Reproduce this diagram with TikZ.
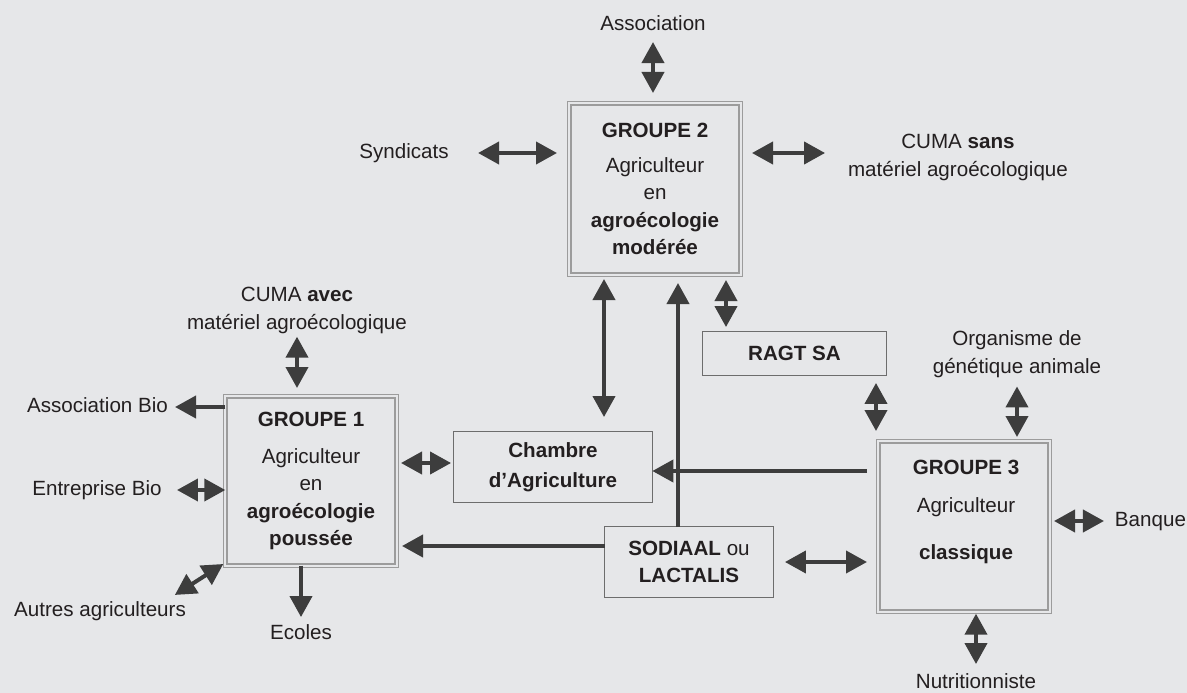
\documentclass[tikz,border=0pt]{standalone}
\usepackage{fontspec}
\setmainfont{Liberation Sans}
\usetikzlibrary{arrows.meta}
\definecolor{bgc}{HTML}{E6E7E9}
\definecolor{arrc}{HTML}{3D3D3D}
\definecolor{txtc}{HTML}{231F20}
\definecolor{dbc}{HTML}{9C9C9C}
\definecolor{sbc}{HTML}{6D6D6D}
\newcommand{\dfont}{\fontsize{20.6pt}{27.5pt}\selectfont}
\tikzset{
  lbl/.style={font=\dfont, text=txtc, inner sep=0pt, outer sep=0pt, text height=14.8pt, text depth=4.3pt},
  lbltwo/.style={font=\dfont, text=txtc, inner sep=0pt, outer sep=0pt, align=center},
  dbox/.style={draw=dbc, line width=1.4pt, double=bgc, double distance=1.8pt, minimum width=171.4pt, inner sep=0pt, outer sep=0pt, font=\dfont, text=txtc, align=center},
  sbox/.style={draw=sbc, line width=1.3pt, inner sep=0pt, outer sep=0pt, font=\dfont, text=txtc, align=center},
  con/.style={draw=arrc, line width=4pt, -{Triangle[length=21pt,width=22pt]}},
  bicon/.style={draw=arrc, line width=4pt, {Triangle[length=21pt,width=22pt]}-{Triangle[length=21pt,width=22pt]}}
}
\begin{document}
\begin{tikzpicture}[x=1pt,y=-1pt]
\fill[bgc] (0,0) rectangle (1187,693);
\useasboundingbox (0,0) rectangle (1187,693);

% main boxes
\node[dbox, minimum height=171.4pt] (g2) at (655,189) {\textbf{GROUPE 2}\\[7.5pt]Agriculteur\\en\\\textbf{agroécologie}\\\textbf{modérée}};
\node[dbox, minimum height=169.4pt] (g1) at (311,481) {\textbf{GROUPE 1}\\[9.5pt]Agriculteur\\en\\\textbf{agroécologie}\\\textbf{poussée}};
\node[dbox, minimum height=170.4pt] (g3) at (964,526.5) {};
\node[lbltwo] (g3txt) at (966,512) {\textbf{GROUPE 3}\\[10.5pt]Agriculteur\\[19.5pt]\textbf{classique}};

\node[sbox, minimum width=198.7pt, minimum height=70.7pt] (chambre) at (553,467) {\textbf{Chambre}\\[2.5pt]\textbf{d’Agriculture}};
\node[sbox, minimum width=183.7pt, minimum height=43.7pt] (ragt) at (794.5,353.5) {\textbf{RAGT SA}};
\node[sbox, minimum width=168.7pt, minimum height=70.7pt] (sodiaal) at (689,562) {\textbf{SODIAAL} ou\\\textbf{LACTALIS}};

% labels
\node[lbl] (assoc) at (653,25) {Association};
\node[lbl] (synd) at (404,153) {Syndicats};
\node[lbltwo] (cumasans) at (958,157.4) {CUMA \textbf{sans}\\matériel agroécologique};
\node[lbltwo] (cumaavec) at (297,310.4) {CUMA \textbf{avec}\\matériel agroécologique};
\node[lbl] (abio) at (97.5,407) {Association Bio};
\node[lbl] (ebio) at (97,490) {Entreprise Bio};
\node[lbl] (autres) at (100,611) {Autres agriculteurs};
\node[lbl] (ecoles) at (301,634) {Ecoles};
\node[lbltwo] (organisme) at (1017,354.4) {Organisme de\\génétique animale};
\node[lbl] (banque) at (1150.5,521) {Banque};
\node[lbl] (nutri) at (976,683) {Nutritionniste};

% connectors around GROUPE 2
\draw[bicon, shorten <=7.5pt, shorten >=10.3pt] (assoc.south) -- (g2.north -| assoc);
\draw[bicon, shorten <=29.4pt, shorten >=12.3pt] (synd.east) -- (g2.west |- synd);
\draw[bicon, shorten <=11.3pt, shorten >=23pt] (g2.east |- synd) -- (cumasans.west |- synd);
\draw[bicon, shorten <=4.3pt, shorten >=14.6pt] ([xshift=-51pt]g2.south) -- ([xshift=51pt]chambre.north);
\draw[con, shorten >=8.3pt] ([xshift=-11pt]sodiaal.north) -- ([xshift=23pt]g2.south);
\draw[bicon, shorten <=5.3pt, shorten >=4.6pt] ([xshift=71pt]g2.south) -- ([xshift=-68.5pt]ragt.north);

% connectors around GROUPE 3
\draw[con, shorten <=11.3pt] ([yshift=55.5pt]g3.west) -- ([yshift=-4pt]chambre.east);
\draw[bicon, shorten <=7.6pt, shorten >=10.3pt] ([xshift=81.5pt]ragt.south) -- ([xshift=-88pt]g3.north);
\draw[bicon, shorten <=8.7pt, shorten >=4.3pt] (organisme.south) -- (g3.north -| organisme);
\draw[bicon, shorten <=4.3pt, shorten >=11pt] (g3.east |- banque) -- (banque.west);
\draw[bicon, shorten <=2pt, shorten >=9.4pt] (g3.south -| nutri) -- (nutri.north);
\draw[bicon, shorten <=11.6pt, shorten >=11.3pt] (sodiaal.east) -- (g3.west |- sodiaal);

% connectors around GROUPE 1
\draw[con, shorten >=5.3pt] ([yshift=16pt]sodiaal.west) -- ([yshift=-65pt]g1.east);
\draw[bicon, shorten <=4.3pt, shorten >=2.6pt] ([yshift=18pt]g1.east) -- ([yshift=4pt]chambre.west);
\draw[bicon, shorten <=3.2pt, shorten >=8.3pt] (cumaavec.south) -- (g1.north -| cumaavec);
\draw[con, shorten >=7.1pt] (g1.west |- abio) -- (abio.east);
\draw[bicon, shorten <=15.3pt] (ebio.east) -- (g1.west |- ebio);
\draw[bicon] ([xshift=-11pt,yshift=6.5pt]autres.north east) -- ([xshift=-2pt,yshift=1.7pt]g1.south west);
\draw[con, shorten >=7.4pt] (g1.south -| ecoles) -- (ecoles.north);
\end{tikzpicture}
\end{document}
